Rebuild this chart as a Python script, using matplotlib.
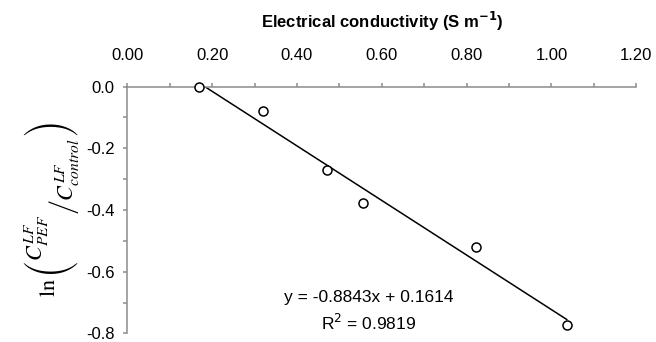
import numpy as np
import matplotlib
matplotlib.use('Agg')
import matplotlib.pyplot as plt
from matplotlib.ticker import MultipleLocator, FormatStrFormatter

plt.rcParams['font.family'] = ['Liberation Sans', 'DejaVu Sans']
plt.rcParams['axes.unicode_minus'] = False

# data
conductivity = [0.168, 0.321, 0.472, 0.555, 0.823, 1.036]
ln_ratio = [0.0, -0.079, -0.272, -0.376, -0.519, -0.774]
slope = -0.8843
intercept = 0.1614
r2 = 0.9819

fig = plt.figure(figsize=(6.56, 3.42), dpi=100)
ax = fig.add_axes([0.194, 0.025, 0.776, 0.722])

x_fit = np.array([min(conductivity), max(conductivity)])
ax.plot(x_fit, slope * x_fit + intercept, color='black', lw=1.1)
ax.plot(conductivity, ln_ratio, 'o', mfc='white', mec='black', ms=6.5, mew=1.1,
        clip_on=False, zorder=3)

ax.set_xlim(0, 1.2)
ax.set_ylim(-0.8, 0)

grey = '#8c8c8c'
for s in ['bottom', 'right']:
    ax.spines[s].set_visible(False)
for s in ['top', 'left']:
    ax.spines[s].set_color(grey)
    ax.spines[s].set_linewidth(1.1)

ax.xaxis.tick_top()
ax.xaxis.set_label_position('top')
ax.xaxis.set_major_locator(MultipleLocator(0.2))
ax.xaxis.set_minor_locator(MultipleLocator(0.1))
ax.xaxis.set_major_formatter(FormatStrFormatter('%.2f'))
ax.yaxis.set_major_locator(MultipleLocator(0.2))
ax.yaxis.set_minor_locator(MultipleLocator(0.1))
ax.yaxis.set_major_formatter(FormatStrFormatter('%.1f'))
ax.tick_params(which='both', direction='out', length=3, width=1.1, color=grey,
               labelsize=12)
ax.tick_params(axis='x', pad=14)
ax.tick_params(axis='y', pad=6)

ax.set_xlabel('Electrical conductivity (S m$^{\\mathbf{-1}}$)', fontsize=12,
              fontweight='bold', labelpad=14)
ylab = (r'$\ln\left(\genfrac{}{}{0}{0}{C^{LF}_{PEF}}{\,}\left/'
        r'\genfrac{}{}{0}{0}{\,}{C^{LF}_{control}}\right.\right)$')
ax.set_ylabel(ylab, fontsize=16, math_fontfamily='stix', labelpad=4)

ax.text(0.57, -0.685, 'y = %.4fx + %.4f' % (slope, intercept), ha='center',
        va='center', fontsize=12.5)
ax.text(0.57, -0.765, 'R$^2$ = %.4f' % r2, ha='center', va='center', fontsize=12.5)

fig.savefig('out.png', dpi=100)
